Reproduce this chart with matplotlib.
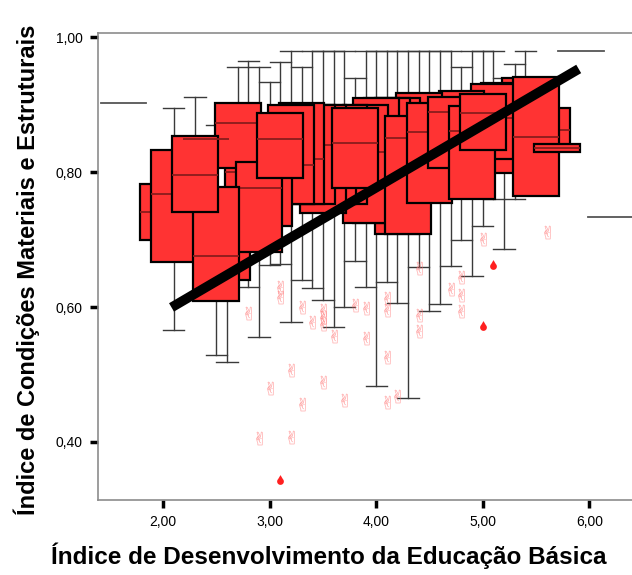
import numpy as np
import matplotlib.pyplot as plt
from matplotlib.path import Path
from matplotlib.patches import Rectangle

# IDEB groups and box statistics (whisker low, Q1, median, Q3, whisker high)
ideb = [2.0, 2.1, 2.3, 2.4, 2.5, 2.6, 2.7, 2.8, 2.9, 3.0, 3.1, 3.2, 3.3, 3.4,
        3.5, 3.6, 3.7, 3.8, 3.9, 4.0, 4.1, 4.2, 4.3, 4.4, 4.5, 4.6, 4.7, 4.8,
        4.9, 5.0, 5.1, 5.2, 5.3, 5.4, 5.5, 5.6, 5.7]
w_lo = [0.699, 0.566, 0.686, 0.849, 0.529, 0.519, 0.740, 0.630, 0.556, 0.662,
        0.663, 0.578, 0.640, 0.628, 0.610, 0.570, 0.600, 0.668, 0.630, 0.483,
        0.637, 0.606, 0.465, 0.660, 0.594, 0.604, 0.661, 0.700, 0.646, 0.720,
        0.760, 0.686, 0.760, 0.800, 0.764, 0.835, 0.830]
q1 = [0.699, 0.667, 0.741, 0.849, 0.609, 0.640, 0.806, 0.700, 0.681, 0.720,
      0.791, 0.753, 0.753, 0.753, 0.740, 0.753, 0.753, 0.776, 0.724, 0.724,
      0.740, 0.708, 0.708, 0.760, 0.754, 0.770, 0.806, 0.800, 0.760, 0.833,
      0.820, 0.799, 0.800, 0.820, 0.764, 0.835, 0.830]
med = [0.741, 0.767, 0.796, 0.849, 0.676, 0.700, 0.873, 0.800, 0.776, 0.800,
       0.849, 0.810, 0.820, 0.840, 0.820, 0.800, 0.830, 0.843, 0.830, 0.820,
       0.850, 0.850, 0.850, 0.870, 0.859, 0.860, 0.889, 0.880, 0.861, 0.887,
       0.880, 0.870, 0.860, 0.880, 0.852, 0.862, 0.836]
q3 = [0.782, 0.833, 0.853, 0.849, 0.778, 0.770, 0.902, 0.870, 0.815, 0.870,
      0.887, 0.900, 0.902, 0.900, 0.900, 0.890, 0.900, 0.895, 0.900, 0.910,
      0.910, 0.910, 0.883, 0.917, 0.902, 0.910, 0.911, 0.920, 0.898, 0.916,
      0.930, 0.932, 0.920, 0.940, 0.941, 0.895, 0.842]
w_hi = [0.782, 0.895, 0.911, 0.849, 0.870, 0.850, 0.956, 0.964, 0.956, 0.933,
        0.963, 0.980, 0.956, 0.980, 0.980, 0.980, 0.980, 0.940, 0.980, 0.980,
        0.980, 0.980, 0.980, 0.980, 0.980, 0.980, 0.980, 0.956, 0.980, 0.980,
        0.980, 0.940, 0.960, 0.980, 0.941, 0.895, 0.842]

# order in which the boxes are stacked (first = bottom)
draw_order = [5.4, 5.3, 5.2, 5.1, 4.8, 4.6, 4.4, 4.2, 4.1, 4.0, 3.9, 3.7, 3.6,
              3.5, 3.4, 3.3, 3.2, 3.0, 2.8, 2.7, 2.6, 2.0, 2.1, 2.9, 2.5, 2.3,
              3.1, 3.8, 4.3, 4.5, 4.7, 4.9, 5.0, 5.6, 5.5, 5.7, 2.4]

# groups with a single school
single_x = [1.63, 5.92, 6.20]
single_y = [0.902, 0.980, 0.733]

# outliers and extreme values
out_x = [3.1, 3.1, 2.8, 3.3, 3.4, 3.5, 3.5, 3.5, 3.6, 3.8, 3.9, 3.9, 4.1, 4.1,
         4.1, 4.1, 4.2, 4.4, 4.4, 4.4, 4.7, 4.8, 4.8, 4.8, 5.0, 5.6, 3.2, 3.0,
         3.5, 3.3, 3.7, 2.9, 3.2]
out_y = [0.630, 0.615, 0.591, 0.600, 0.578, 0.596, 0.585, 0.575, 0.557, 0.603,
         0.599, 0.554, 0.613, 0.596, 0.526, 0.459, 0.468, 0.658, 0.588, 0.564,
         0.627, 0.644, 0.618, 0.594, 0.701, 0.711, 0.507, 0.480, 0.489, 0.456,
         0.462, 0.406, 0.407]
ext_x = [3.1, 5.1, 5.0]
ext_y = [0.342, 0.661, 0.570]

# fitted line
fit_intercept = 0.407
fit_slope = 0.0925
fit_range = [2.08, 5.90]

box_w = 0.43
cap_w = 0.20
box_color = '#ff3333'
median_color = '#8a1c1c'

plt.rcParams['font.family'] = ['Liberation Sans', 'DejaVu Sans']

fig = plt.figure(figsize=(6.32, 5.75), dpi=100)
ax = fig.add_axes([0.155, 0.1304, 0.845, 0.8122])

# whiskers under everything
for x, lo, a, b, hi in zip(ideb, w_lo, q1, q3, w_hi):
    if hi > b:
        ax.plot([x, x], [b, hi], color='#3a3a3a', lw=1.0, zorder=1)
        ax.plot([x - cap_w / 2, x + cap_w / 2], [hi, hi], color='#3a3a3a', lw=1.0, zorder=1)
    if lo < a:
        ax.plot([x, x], [lo, a], color='#3a3a3a', lw=1.0, zorder=1)
        ax.plot([x - cap_w / 2, x + cap_w / 2], [lo, lo], color='#3a3a3a', lw=1.0, zorder=1)

stats = {x: (a, m, b) for x, a, m, b in zip(ideb, q1, med, q3)}
for k, x in enumerate(draw_order):
    a, m, b = stats[x]
    z = 2 + k * 0.01
    if b > a:
        ax.add_patch(Rectangle((x - box_w / 2, a), box_w, b - a, facecolor=box_color,
                               edgecolor='black', lw=1.6, zorder=z))
    ax.plot([x - box_w / 2, x + box_w / 2], [m, m], color=median_color, lw=1.3,
            zorder=z + 0.005, solid_capstyle='butt')

for x, y in zip(single_x, single_y):
    ax.plot([x - box_w / 2, x + box_w / 2], [y, y], color='#555555', lw=1.3, zorder=1)

# outliers: small hand glyphs; extremes: red drops
ax.scatter(out_x, out_y, marker='$\u270c$', s=95, color='#ff6f6f', alpha=0.75,
           linewidths=0, zorder=5)
t = np.linspace(np.pi / 4, np.pi / 4 - 3 * np.pi / 2, 40)
drop = np.vstack([[[0, 1.9]], np.column_stack([np.cos(t), np.sin(t)]), [[0, 1.9]]])
ax.scatter(ext_x, ext_y, marker=Path(drop, closed=True), s=85, color='#ff2020',
           linewidths=0, zorder=5)

# regression line
fx = np.array(fit_range)
ax.plot(fx, fit_intercept + fit_slope * fx, color='black', lw=7,
        solid_capstyle='butt', zorder=10)

ax.set_xlim(1.39, 6.40)
ax.set_ylim(0.314, 1.006)
ax.set_xticks([2, 3, 4, 5, 6])
ax.set_yticks([0.4, 0.6, 0.8, 1.0])
ax.set_xticklabels([f'{v:.2f}'.replace('.', ',') for v in [2, 3, 4, 5, 6]], fontsize=10)
ax.set_yticklabels([f'{v:.2f}'.replace('.', ',') for v in [0.4, 0.6, 0.8, 1.0]], fontsize=10)
ax.tick_params(direction='out', length=6, width=2.5, color='black', pad=5)
for side in ['left', 'bottom', 'top']:
    ax.spines[side].set_color('#8c8c8c')
    ax.spines[side].set_linewidth(1.2)
ax.spines['right'].set_visible(False)

fig.text(0.52, 0.033, 'Índice de Desenvolvimento da Educação Básica',
         ha='center', va='center', fontsize=17.5, fontweight='bold')
fig.text(0.043, 0.53, 'Índice de Condições Materiais e Estruturais',
         ha='center', va='center', rotation=90, fontsize=17, fontweight='bold')

fig.savefig('out.png', dpi=100)
